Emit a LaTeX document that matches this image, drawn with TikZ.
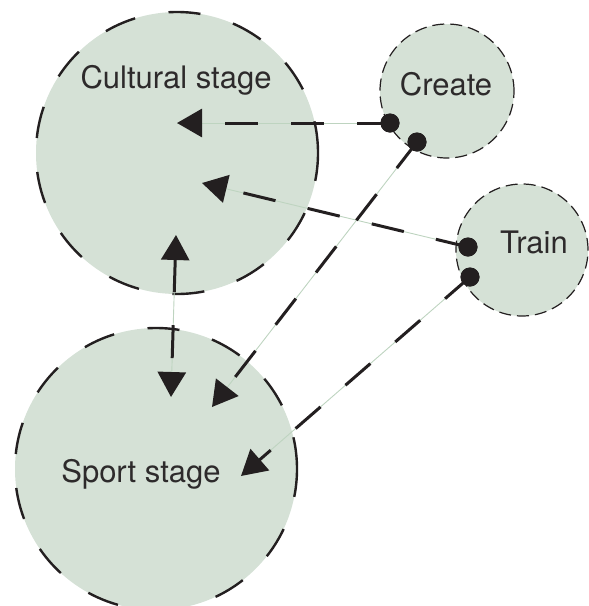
\documentclass[tikz,border=0pt]{standalone}
\usepackage{fontspec}
\setmainfont{TeX Gyre Heros}
\usetikzlibrary{arrows.meta}
\definecolor{sage}{RGB}{213,225,214}
\definecolor{ink}{RGB}{35,31,32}
\definecolor{txt}{RGB}{45,42,43}
\definecolor{thinline}{RGB}{190,212,192}
\tikzset{
  bigstage/.style={circle, fill=sage, draw=ink, line width=2.4pt, dash pattern=on 32pt off 34pt, minimum size=#1, inner sep=0pt},
  smallstage/.style={circle, fill=sage, draw=ink, line width=1.2pt, dash pattern=on 12pt off 6pt, minimum size=#1, inner sep=0pt},
  lbl/.style={anchor=base, text=txt, font=\fontsize{31}{36}\selectfont, inner sep=0pt},
  dotnode/.style={circle, fill=ink, minimum size=19pt, inner sep=0pt},
  faint/.style={draw=thinline, line width=0.9pt},
  conn/.style={draw=ink, line width=3pt, dash pattern=on 33pt off 33pt, -{Triangle[length=25pt,width=28pt]}},
  conn2/.style={draw=ink, line width=3pt, dash pattern=on 33pt off 33pt, {Triangle[length=25pt,width=28pt]}-{Triangle[length=25pt,width=28pt]}},
}
\begin{document}
\begin{tikzpicture}[x=1pt,y=-1pt]
\useasboundingbox (0,0) rectangle (589,606);
% stages
\node[bigstage=282pt] (cult) at (177,153) {};
\node[bigstage=282pt] (sport) at (156,469) {};
\node[smallstage=134pt] (create) at (447,91) {};
\node[smallstage=132pt] (train) at (522,250) {};
% labels
\node[lbl] (cultlbl) at (176,88) {Cultural stage};
\node[lbl] (sportlbl) at (141,482) {Sport stage};
\node[lbl] (createlbl) at (446,95) {Create};
\node[lbl] (trainlbl) at (534,253) {Train};
% end points
\coordinate (t1) at (177,123);
\coordinate (t2) at (212,407);
\coordinate (t3) at (202,183);
\coordinate (t4) at (241,476);
\coordinate (vt) at (176,235);
\coordinate (vb) at (171,397);
\node[dotnode] (cd1) at (390,123) {};
\node[dotnode] (cd2) at (417,142) {};
\node[dotnode] (td1) at (468,247) {};
\node[dotnode] (td2) at (470,277) {};
% faint underlines
\draw[faint] (cd1.center) -- (t1);
\draw[faint] (cd2.center) -- (t2);
\draw[faint] (td1.center) -- (t3);
\draw[faint] (td2.center) -- (t4);
\draw[faint] (vt) -- (vb);
% dashed connectors
\draw[conn] (cd1.center) -- (t1);
\draw[conn] (cd2.center) -- (t2);
\draw[conn] (td1.center) -- (t3);
\draw[conn] (td2.center) -- (t4);
\draw[conn2] (vt) -- (vb);
% dots on top
\node[dotnode] at (cd1) {};
\node[dotnode] at (cd2) {};
\node[dotnode] at (td1) {};
\node[dotnode] at (td2) {};
\end{tikzpicture}
\end{document}
